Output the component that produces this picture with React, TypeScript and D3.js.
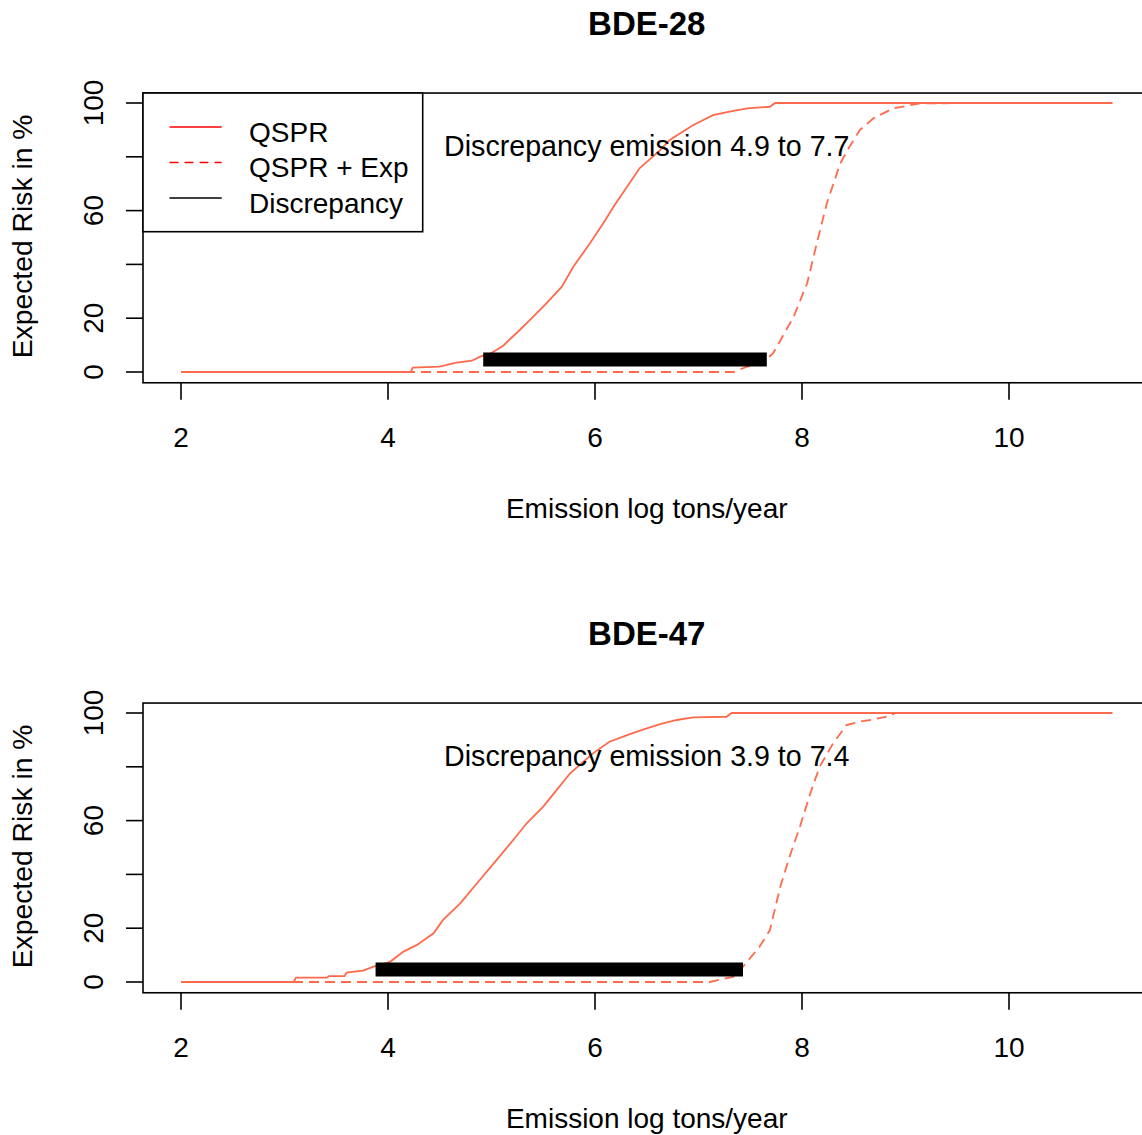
import React from "react";
import * as d3 from "d3";

// ---------- data ----------
const panelTitles = ["BDE-28", "BDE-47"];
const xTicks = [2, 4, 6, 8, 10];
const yTicks = [0, 20, 40, 60, 80, 100];
const yTickLabels = ["0", "20", "", "60", "", "100"];

const qspr28X = [2, 4.22, 4.24, 4.5, 4.66, 4.81, 4.89, 4.99, 5.11, 5.24, 5.37, 5.53, 5.68, 5.79, 5.95, 6.08, 6.19, 6.31, 6.43, 6.63, 6.72, 6.82, 6.95, 7.14, 7.3, 7.47, 7.69, 7.74, 11];
const qspr28Y = [0, 0, 1.6, 2.0, 3.5, 4.2, 5.7, 6.9, 9.7, 14.4, 19.3, 25.5, 31.7, 39.1, 47.8, 55.3, 62.1, 68.9, 75.7, 82.5, 86.2, 88.7, 91.8, 95.5, 96.8, 98.0, 98.6, 100, 100];
const exp28X = [2, 7.34, 7.47, 7.6, 7.72, 7.92, 8.05, 8.15, 8.24, 8.37, 8.46, 8.56, 8.69, 8.88, 9.01, 9.14, 11];
const exp28Y = [0, 0, 2.0, 3.0, 6.9, 20.6, 33, 49, 62.7, 77.6, 83.8, 90, 94.3, 98.0, 98.9, 99.9, 100];

const qspr47X = [2, 3.09, 3.11, 3.41, 3.43, 3.58, 3.6, 3.76, 3.86, 4.02, 4.15, 4.28, 4.44, 4.53, 4.7, 4.86, 5.05, 5.21, 5.34, 5.5, 5.63, 5.76, 5.98, 6.14, 6.31, 6.47, 6.63, 6.79, 6.95, 7.27, 7.32, 11];
const qspr47Y = [0, 0, 1.6, 1.6, 2.2, 2.2, 3.5, 4.2, 5.7, 7.5, 11.3, 13.8, 18.1, 23.0, 29.3, 36.7, 45.4, 52.8, 59.0, 65.2, 71.4, 77.6, 85.0, 89.3, 91.8, 93.9, 95.9, 97.4, 98.4, 98.6, 100, 100];
const exp47X = [2, 7.11, 7.34, 7.43, 7.59, 7.69, 7.79, 7.88, 7.98, 8.08, 8.17, 8.3, 8.43, 8.56, 8.69, 8.85, 8.9, 11];
const exp47Y = [0, 0, 2.0, 5.7, 13.1, 19.3, 35.4, 46.6, 57.7, 70.1, 80.0, 88.7, 95.5, 96.8, 97.6, 98.9, 100, 100];

const discStart = [4.92, 3.88];
const discEnd = [7.66, 7.43];
const discLevel = [5, 5];
const discLabels = ["Discrepancy emission 4.9 to 7.7", "Discrepancy emission 3.9 to 7.4"];
const discTextLevel = [80, 80];

const legendLabels = ["QSPR", "QSPR + Exp", "Discrepancy"];

const qsprX = [qspr28X, qspr47X];
const qsprY = [qspr28Y, qspr47Y];
const expX = [exp28X, exp47X];
const expY = [exp28Y, exp47Y];

// ---------- layout ----------
const W = 1142;
const H = 1135;
const FONT = "'Liberation Sans', Arial, Helvetica, sans-serif";
const CURVE = "#FF6A4D";
const panelOffset = [0, 610];

const x = d3.scaleLinear().domain([1.64, 11.36]).range([143.74, 1149.76]);

function Panel({ i }: { i: number }) {
  const off = panelOffset[i];
  const y = d3.scaleLinear().domain([-4, 104]).range([382.76 + off, 92.24 + off]);
  const line = d3
    .line<[number, number]>()
    .x((d) => x(d[0]))
    .y((d) => y(d[1]));
  const solid = line(qsprX[i].map((v, k) => [v, qsprY[i][k]]) as [number, number][]) || "";
  const dashed = line(expX[i].map((v, k) => [v, expY[i][k]]) as [number, number][]) || "";
  const [x0, x1] = x.range();
  const [yb, yt] = y.range();
  const boxLeft = 143;
  const boxTop = yt + 0.8;
  const boxBottom = yb;
  const cx = (x0 + x1) / 2;
  return (
    <g>
      <text x={cx} y={35 + off} textAnchor="middle" fontSize={33} fontWeight="bold" fontFamily={FONT}>
        {panelTitles[i]}
      </text>
      <path d={solid} fill="none" stroke={CURVE} strokeWidth={1.8} />
      <path d={dashed} fill="none" stroke={CURVE} strokeWidth={1.8} strokeDasharray="10,6" />
      <line
        x1={x(discStart[i])}
        x2={x(discEnd[i])}
        y1={y(discLevel[i]) + 1}
        y2={y(discLevel[i]) + 1}
        stroke="#000"
        strokeWidth={14}
      />
      <text x={cx} y={y(discTextLevel[i]) - 0.5} textAnchor="middle" fontSize={28.6} fontFamily={FONT}>
        {discLabels[i]}
      </text>
      <rect x={boxLeft} y={boxTop} width={x1 - boxLeft + 5} height={boxBottom - boxTop} fill="none" stroke="#000" strokeWidth={1.6} />
      {xTicks.map((t) => (
        <g key={"x" + t}>
          <line x1={x(t)} x2={x(t)} y1={boxBottom} y2={boxBottom + 17} stroke="#000" strokeWidth={1.6} />
          <text x={x(t)} y={446.7 + off} textAnchor="middle" fontSize={28} fontFamily={FONT}>
            {t}
          </text>
        </g>
      ))}
      {yTicks.map((t, k) => (
        <g key={"y" + t}>
          <line x1={boxLeft - 17} x2={boxLeft} y1={y(t)} y2={y(t)} stroke="#000" strokeWidth={1.6} />
          {yTickLabels[k] !== "" && (
            <text
              transform={`translate(103,${y(t)}) rotate(-90)`}
              textAnchor="middle"
              fontSize={28}
              fontFamily={FONT}
            >
              {yTickLabels[k]}
            </text>
          )}
        </g>
      ))}
      <text x={cx} y={517.5 + off} textAnchor="middle" fontSize={28} fontFamily={FONT}>
        Emission log tons/year
      </text>
      <text
        transform={`translate(32,${(boxTop + boxBottom) / 2 - 1.5}) rotate(-90)`}
        textAnchor="middle"
        fontSize={28.3}
        fontFamily={FONT}
      >
        Expected Risk in %
      </text>
      {i === 0 && (
        <g>
          <rect x={boxLeft} y={boxTop} width={422.7 - boxLeft} height={231.7 - boxTop} fill="#fff" stroke="#000" strokeWidth={1.6} />
          {legendLabels.map((lab, k) => {
            const ly = 127 + k * 35.5;
            return (
              <g key={lab}>
                <line
                  x1={169.5}
                  x2={221.7}
                  y1={ly}
                  y2={ly}
                  stroke={k === 2 ? "#000" : "#FF0000"}
                  strokeWidth={1.6}
                  strokeDasharray={k === 1 ? "9,6" : undefined}
                />
                <text x={249} y={ly + 14.5} fontSize={28} fontFamily={FONT}>
                  {lab}
                </text>
              </g>
            );
          })}
        </g>
      )}
    </g>
  );
}

export default function App() {
  return (
    <svg
      width={W}
      height={H}
      style={{ position: "absolute", left: 0, top: 0, background: "#fff" }}
    >
      <rect x={0} y={0} width={W} height={H} fill="#fff" />
      <Panel i={0} />
      <Panel i={1} />
    </svg>
  );
}
